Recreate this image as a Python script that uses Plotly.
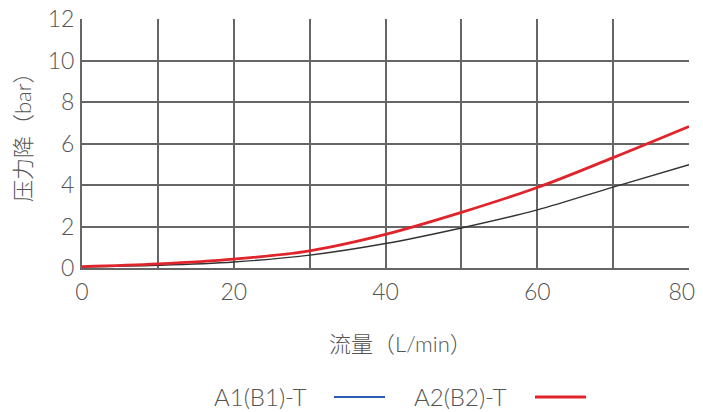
import plotly.graph_objects as go

flow = [0, 10, 20, 30, 40, 50, 60, 70, 80]
a1_b1_t = [0.05, 0.13, 0.29, 0.62, 1.18, 1.93, 2.8, 3.9, 4.98]
a2_b2_t = [0.07, 0.2, 0.43, 0.83, 1.62, 2.68, 3.88, 5.32, 6.82]
x_ticks = [0, 20, 40, 60, 80]
x_tick_labels = ["0", "20", "40", "60", "80\u2002\u2009"]
y_ticks = [0, 2, 4, 6, 8, 10, 12]
legend_names = ["A1(B1)-T", "A2(B2)-T"]
legend_colors = ["#2a5db0", "#e0242c"]

font_family = "Lato, 'Noto Sans CJK SC', sans-serif"
grid_color = "#666666"
text_color = "#555555"

# page offset (body margin) compensation
OFF = 8
W, H = 703 - OFF, 412 - OFF
L, R, T, B = 82 - OFF, 14, 19 - OFF, 144
pw, ph = W - L - R, H - T - B


def px(xp):
    return (xp - OFF - L) / pw


def py(yp):
    return (H - B - (yp - OFF)) / ph


fig = go.Figure()
fig.add_trace(go.Scatter(x=flow, y=a1_b1_t, mode="lines", line=dict(color="#333333", width=1.4, shape="spline"),
                         name=legend_names[0], showlegend=False))
fig.add_trace(go.Scatter(x=flow, y=a2_b2_t, mode="lines", line=dict(color=legend_colors[1], width=2.8, shape="spline"),
                         name=legend_names[1], showlegend=False))

tick_font = dict(size=23, color=text_color, family=font_family, weight=300)
fig.update_xaxes(range=[0, 80], tickvals=x_ticks, ticktext=x_tick_labels, showgrid=True, gridcolor=grid_color,
                 gridwidth=1.6, minor=dict(dtick=10, showgrid=True, gridcolor=grid_color, gridwidth=1.6),
                 showline=True, linecolor=grid_color, linewidth=2, zeroline=False, ticks="",
                 tickfont=tick_font, ticklabelstandoff=2, automargin=False, ticklabeloverflow="allow")
fig.update_yaxes(range=[0, 12], tickvals=y_ticks, showgrid=True, gridcolor=grid_color, gridwidth=1.6,
                 showline=True, linecolor=grid_color, linewidth=2, zeroline=False, ticks="",
                 tickfont=tick_font, ticklabelstandoff=1, automargin=False, ticklabeloverflow="allow")

ann_font = dict(size=24, color=text_color, family=font_family, weight=300)
title_font = dict(size=22, color=text_color, family=font_family, weight=300)
common = dict(xref="paper", yref="paper", showarrow=False, xanchor="center", yanchor="middle")
anns = [
    dict(text="流量（L/min）", x=px(400), y=py(343), font=title_font, **common),
    dict(text="压力降（bar）", x=px(22), y=py(132), textangle=-90, font=title_font, **common),
    dict(text=legend_names[0], x=px(260), y=py(396), font=ann_font, **common),
    dict(text=legend_names[1], x=px(460), y=py(396), font=ann_font, **common),
]

shapes = [
    dict(type="line", xref="paper", yref="paper", x0=px(334), x1=px(385), y0=py(397), y1=py(397),
         line=dict(color=legend_colors[0], width=2)),
    dict(type="line", xref="paper", yref="paper", x0=px(535), x1=px(586), y0=py(397), y1=py(397),
         line=dict(color=legend_colors[1], width=3)),
]

fig.update_layout(width=W, height=H, margin=dict(l=L, r=R, t=T, b=B, autoexpand=False), plot_bgcolor="white",
                  paper_bgcolor="white", showlegend=False, annotations=anns, shapes=shapes,
                  font=dict(family=font_family, color=text_color))
fig.write_html("out.html")
